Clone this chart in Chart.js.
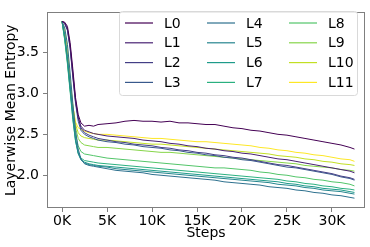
<!DOCTYPE html>
<html>
<head>
<meta charset="utf-8">
<script src="https://cdn.jsdelivr.net/npm/chart.js@4"></script>
<style>
html,body{margin:0;padding:0;background:#fff;}
#wrap{width:370px;height:247px;position:relative;}
</style>
</head>
<body>
<div id="wrap"><canvas id="c" width="370" height="247"></canvas></div>
<script>
// Steps (x values)
const steps = [0,300,600,900,1200,1500,1800,2100,2500,3000,3500,4000,
  5000,6000,7000,8000,9000,10000,11000,12000,13000,14000,15000,16000,17000,18000,19000,20000,
  21000,22000,23000,24000,25000,26000,27000,28000,29000,30000,31000,32000,32500];

const layerLabels = ["L0","L1","L2","L3","L4","L5","L6","L7","L8","L9","L10","L11"];
const layerColors = ["#440154","#482173","#433e85","#38598c","#2d708e","#25858e",
                     "#1e9b8a","#2ab07f","#52c569","#86d549","#c2df23","#fde725"];

const L0 = [3.88,3.87,3.82,3.62,3.30,2.95,2.74,2.64,2.60,2.61,2.60,2.62,
  2.63,2.64,2.66,2.67,2.66,2.66,2.65,2.66,2.64,2.64,2.63,2.62,2.62,2.60,2.58,2.57,
  2.55,2.54,2.52,2.50,2.49,2.47,2.45,2.43,2.41,2.39,2.37,2.34,2.32];
const L1 = [3.88,3.86,3.78,3.56,3.22,2.90,2.70,2.60,2.55,2.53,2.51,2.50,
  2.48,2.47,2.46,2.45,2.43,2.42,2.41,2.39,2.38,2.36,2.35,2.33,2.32,2.30,2.29,2.27,
  2.26,2.24,2.22,2.20,2.19,2.17,2.15,2.13,2.11,2.09,2.07,2.05,2.03];
const L2 = [3.88,3.86,3.79,3.58,3.25,2.92,2.70,2.58,2.52,2.49,2.47,2.45,
  2.43,2.41,2.40,2.38,2.37,2.36,2.34,2.33,2.31,2.30,2.28,2.27,2.25,2.24,2.22,2.21,
  2.19,2.17,2.15,2.13,2.12,2.10,2.08,2.06,2.04,2.02,1.99,1.97,1.95];
const L3 = [3.88,3.85,3.77,3.55,3.20,2.88,2.66,2.55,2.50,2.47,2.45,2.43,
  2.41,2.40,2.38,2.37,2.35,2.34,2.33,2.31,2.30,2.28,2.27,2.25,2.24,2.22,2.21,2.19,
  2.18,2.16,2.14,2.12,2.10,2.09,2.07,2.05,2.03,2.01,1.98,1.96,1.94];
const L4 = [3.88,3.80,3.60,3.25,2.88,2.55,2.32,2.20,2.14,2.12,2.11,2.10,
  2.08,2.06,2.05,2.04,2.03,2.01,2.00,1.99,1.98,1.97,1.96,1.95,1.94,1.92,1.91,1.90,
  1.89,1.88,1.86,1.85,1.84,1.82,1.81,1.79,1.78,1.76,1.75,1.73,1.72];
const L5 = [3.88,3.72,3.45,3.10,2.75,2.45,2.28,2.19,2.15,2.13,2.12,2.11,
  2.10,2.08,2.07,2.06,2.05,2.04,2.03,2.02,2.01,2.00,1.99,1.98,1.97,1.96,1.95,1.94,
  1.93,1.92,1.91,1.89,1.88,1.87,1.85,1.84,1.82,1.81,1.80,1.78,1.77];
const L6 = [3.88,3.68,3.40,3.05,2.70,2.42,2.26,2.19,2.16,2.14,2.13,2.12,
  2.11,2.10,2.09,2.08,2.07,2.06,2.05,2.04,2.03,2.02,2.01,2.00,1.99,1.98,1.97,1.96,
  1.95,1.94,1.93,1.92,1.90,1.89,1.87,1.86,1.84,1.83,1.82,1.80,1.79];
const L7 = [3.88,3.65,3.36,3.02,2.68,2.42,2.27,2.21,2.18,2.17,2.16,2.15,
  2.14,2.13,2.12,2.11,2.10,2.09,2.08,2.07,2.06,2.05,2.04,2.03,2.02,2.01,2.00,1.99,
  1.98,1.97,1.96,1.95,1.93,1.92,1.90,1.89,1.87,1.86,1.84,1.83,1.82];
const L8 = [3.88,3.66,3.38,3.05,2.75,2.50,2.36,2.29,2.26,2.25,2.24,2.23,
  2.21,2.20,2.19,2.18,2.17,2.16,2.15,2.14,2.13,2.12,2.11,2.10,2.09,2.09,2.08,2.07,
  2.06,2.04,2.03,2.01,2.00,1.98,1.97,1.95,1.94,1.92,1.91,1.89,1.87];
const L9 = [3.88,3.68,3.42,3.10,2.82,2.58,2.45,2.40,2.37,2.36,2.35,2.34,
  2.34,2.33,2.32,2.31,2.30,2.29,2.28,2.28,2.27,2.26,2.25,2.24,2.23,2.22,2.21,2.20,
  2.19,2.18,2.17,2.16,2.15,2.14,2.12,2.11,2.10,2.09,2.07,2.06,2.05];
const L10 = [3.88,3.72,3.48,3.15,2.85,2.62,2.52,2.48,2.46,2.45,2.44,2.43,
  2.43,2.42,2.41,2.40,2.39,2.38,2.38,2.37,2.36,2.35,2.34,2.33,2.32,2.31,2.30,2.29,
  2.28,2.27,2.26,2.24,2.23,2.22,2.20,2.19,2.17,2.16,2.14,2.13,2.12];
const L11 = [3.88,3.78,3.55,3.18,2.85,2.65,2.58,2.56,2.54,2.52,2.51,2.50,
  2.50,2.49,2.48,2.47,2.46,2.45,2.45,2.44,2.43,2.42,2.41,2.41,2.40,2.39,2.38,2.37,
  2.36,2.34,2.33,2.31,2.30,2.28,2.27,2.25,2.24,2.22,2.20,2.19,2.17];

const series = [L0,L1,L2,L3,L4,L5,L6,L7,L8,L9,L10,L11];
const xTicks = [0,5000,10000,15000,20000,25000,30000];
const yTicks = [2.0,2.5,3.0,3.5];

const FONT = "'DejaVu Sans', sans-serif";

const datasets = series.map((s,i)=>({
  label: layerLabels[i],
  data: s.map((v,j)=>({x: steps[j], y: v})),
  borderColor: layerColors[i],
  backgroundColor: layerColors[i],
  borderWidth: 1,
  pointRadius: 0,
  tension: 0,
  fill: false
}));

const framePlugin = {
  id: 'frame',
  afterDraw(chart){
    const {ctx, chartArea: a} = chart;
    ctx.save();
    ctx.strokeStyle = '#7f7f7f';
    ctx.lineWidth = 1;
    ctx.strokeRect(Math.round(a.left)+0.5, Math.round(a.top)+0.5,
                   Math.round(a.right-a.left)-1, Math.round(a.bottom-a.top)-1);
    // legend
    const bx = 119.5, by = 11.5, bw = 238, bh = 84, r = 3;
    ctx.fillStyle = 'rgba(255,255,255,0.85)';
    ctx.strokeStyle = '#d9d9d9';
    ctx.beginPath();
    ctx.moveTo(bx+r, by);
    ctx.lineTo(bx+bw-r, by); ctx.quadraticCurveTo(bx+bw, by, bx+bw, by+r);
    ctx.lineTo(bx+bw, by+bh-r); ctx.quadraticCurveTo(bx+bw, by+bh, bx+bw-r, by+bh);
    ctx.lineTo(bx+r, by+bh); ctx.quadraticCurveTo(bx, by+bh, bx, by+bh-r);
    ctx.lineTo(bx, by+r); ctx.quadraticCurveTo(bx, by, bx+r, by);
    ctx.closePath(); ctx.fill(); ctx.stroke();
    ctx.font = '14px ' + FONT;
    ctx.textBaseline = 'middle';
    ctx.textAlign = 'left';
    chart.data.datasets.forEach((ds,i)=>{
      const col = Math.floor(i/4), row = i%4;
      const x0 = 125 + col*82, y0 = 23 + row*19.8;
      ctx.strokeStyle = ds.borderColor;
      ctx.lineWidth = 1.2;
      ctx.beginPath(); ctx.moveTo(x0, y0); ctx.lineTo(x0+28, y0); ctx.stroke();
      ctx.fillStyle = '#000';
      ctx.fillText(ds.label, x0+39, y0+1);
    });
    ctx.restore();
  }
};

new Chart(document.getElementById('c'), {
  type: 'line',
  data: { datasets },
  options: {
    responsive: false,
    animation: false,
    layout: { padding: { left: 0, right: 5, top: 4, bottom: 0 } },
    plugins: { legend: { display: false }, tooltip: { enabled: false } },
    scales: {
      x: {
        type: 'linear',
        min: -1670, max: 33670,
        afterBuildTicks(s){ s.ticks = xTicks.map(v=>({value:v})); },
        afterFit(s){ s.height = 39; },
        ticks: { font: { family: FONT, size: 14 }, color: '#000', padding: 1, maxRotation: 0,
                 callback: v => (v/1000) + 'K' },
        grid: { display: true, drawOnChartArea: false, drawTicks: true, tickLength: 4, color: '#7f7f7f' },
        border: { display: false },
        title: { display: true, text: 'Steps', font: { family: FONT, size: 14 }, color: '#000',
                 padding: { top: 0, bottom: 5 } }
      },
      y: {
        min: 1.60, max: 3.99,
        afterBuildTicks(s){ s.ticks = yTicks.map(v=>({value:v})); },
        afterFit(s){ s.width = 47; },
        ticks: { font: { family: FONT, size: 14 }, color: '#000', padding: 4,
                 callback: v => v.toFixed(1) },
        grid: { display: true, drawOnChartArea: false, drawTicks: true, tickLength: 4, color: '#7f7f7f' },
        border: { display: false },
        title: { display: true, text: 'Layerwise Mean Entropy', font: { family: FONT, size: 14 }, color: '#000',
                 padding: { top: 3, bottom: 0 } }
      }
    }
  },
  plugins: [framePlugin]
});
</script>
</body>
</html>
